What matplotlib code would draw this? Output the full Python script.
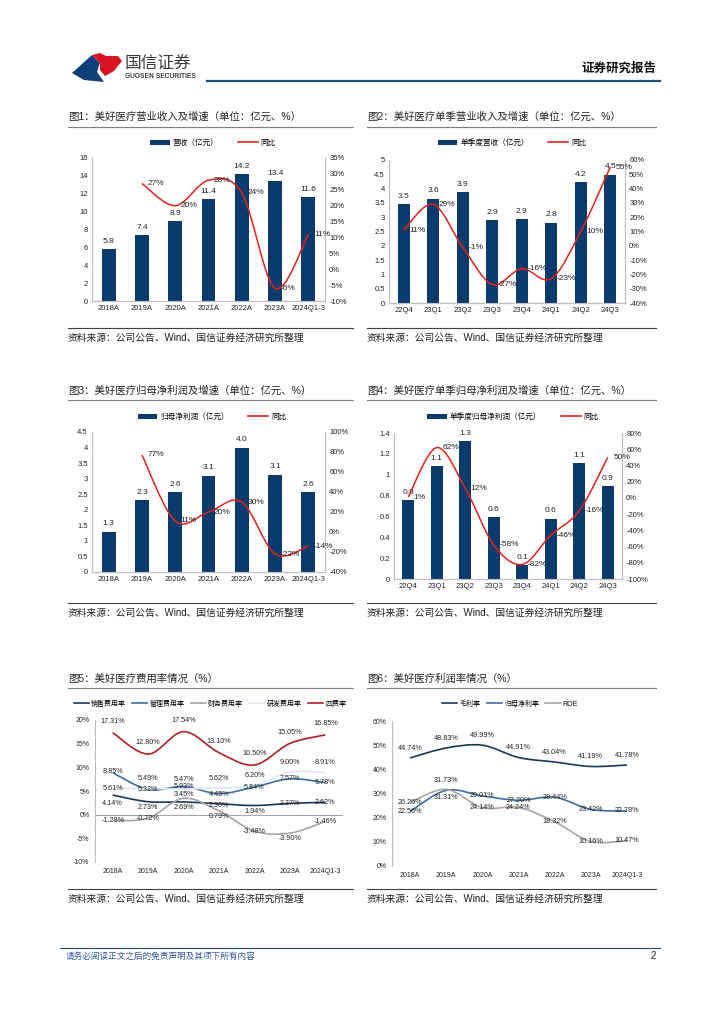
import numpy as np
import matplotlib
matplotlib.use("Agg")
import matplotlib.pyplot as plt
from matplotlib.lines import Line2D
from matplotlib.patches import Patch, Polygon, PathPatch
from matplotlib.path import Path

plt.rcParams['font.family'] = ['Liberation Sans', 'Noto Sans CJK SC', 'DejaVu Sans']
plt.rcParams['axes.unicode_minus'] = False

# DATA
annual_cats = ['2018A', '2019A', '2020A', '2021A', '2022A', '2023A', '2024Q1-3']
quarter_cats = ['22Q4', '23Q1', '23Q2', '23Q3', '23Q4', '24Q1', '24Q2', '24Q3']

revenue = [5.8, 7.4, 8.9, 11.4, 14.2, 13.4, 11.6]
revenue_yoy = [None, 27, 20, 28, 24, -6, 11]
q_revenue = [3.46, 3.65, 3.87, 2.89, 2.93, 2.81, 4.24, 4.49]
q_revenue_yoy = [11, 29, -1, -27, -16, -23, 10, 55]
net_profit = [1.3, 2.3, 2.57, 3.1, 4.0, 3.13, 2.57]
net_profit_yoy = [None, 77, 11, 20, 30, -22, -14]
q_profit = [0.76, 1.08, 1.32, 0.59, 0.13, 0.58, 1.11, 0.89]
q_profit_yoy = [1, 62, 12, -58, -82, -46, -16, 50]

sales_rate = [4.14, 2.73, 2.69, 2.30, 1.94, 2.37, 2.62]
admin_rate = [8.85, 5.32, 5.93, 4.45, 5.84, 7.57, 6.78]
fin_rate = [-1.29, -0.72, 3.45, 0.79, -3.48, -3.90, -1.46]
rd_rate = [5.61, 5.49, 5.47, 5.62, 6.20, 9.00, 8.91]
four_rate = [17.31, 12.80, 17.54, 13.10, 10.50, 15.05, 16.85]

gross_margin = [44.74, 48.83, 49.99, 44.91, 43.04, 41.19, 41.78]
net_margin = [22.56, 31.31, 29.01, 27.20, 28.44, 23.42, 22.78]
roe = [26.26, 31.73, 24.14, 24.24, 18.32, 10.16, 10.47]

# STYLE
W, H = 724, 1024
NAVY = '#0B3B6C'
RED = '#E2231A'
SPINE = '#BFBFBF'
TXT = '#222222'

fig = plt.figure(figsize=(W / 100, H / 100), dpi=100)


def rect(x0, y0, x1, y1):
    return [x0 / W, 1 - y1 / H, (x1 - x0) / W, (y1 - y0) / H]


def ftext(x, y, s, **kw):
    fig.text(x / W, 1 - y / H, s, **kw)


def hline(x0, x1, y, color, lw):
    fig.add_artist(Line2D([x0 / W, x1 / W], [1 - y / H] * 2, color=color, lw=lw))


def smooth_path(xs, ys):
    pts = np.column_stack([xs, ys]).astype(float)
    verts = [pts[0]]
    codes = [Path.MOVETO]
    n = len(pts)
    for i in range(n - 1):
        p0 = pts[i - 1] if i > 0 else pts[i]
        p1, p2 = pts[i], pts[i + 1]
        p3 = pts[i + 2] if i + 2 < n else pts[i + 1]
        verts += [p1 + (p2 - p0) / 6, p2 - (p3 - p1) / 6, p2]
        codes += [Path.CURVE4] * 3
    return Path(verts, codes)


def panel_frame(x0, x1, title, ty, tline, sline, sy):
    ftext(x0, ty, title, fontsize=7.5, color=TXT, va='center')
    hline(x0, x1, tline, '#7F7F7F', 0.8)
    hline(x0, x1, sline, '#404040', 0.8)
    ftext(x0, sy, '资料来源：公司公告、Wind、国信证券经济研究所整理', fontsize=7, color=TXT, va='center')


def bar_line(box, cats, bars, yoy, bar_name, llim, lstep, rlim, rstep, leg_xy):
    ax = fig.add_axes(rect(*box))
    x = np.arange(len(cats))
    ax.bar(x, bars, width=0.42, color=NAVY, zorder=2)
    for xi, v in zip(x, bars):
        ax.annotate(f'{v:.1f}', (xi, v), xytext=(0, 3), textcoords='offset points',
                    ha='center', va='bottom', fontsize=6, color=TXT)
    ax.set_xlim(-0.5, len(cats) - 0.5)
    ax.set_ylim(*llim)
    lt = np.arange(llim[0], llim[1] + lstep / 2, lstep)
    ax.set_yticks(lt)
    ax.set_yticklabels([f'{round(v, 2):g}' for v in lt])
    ax.set_xticks(x)
    ax.set_xticklabels(cats)

    ax2 = ax.twinx()
    pts = [(i, v) for i, v in enumerate(yoy) if v is not None]
    px, py = zip(*pts)
    ax2.add_patch(PathPatch(smooth_path(px, py), facecolor='none', edgecolor=RED, lw=1.1, zorder=3))
    for xi, v in pts:
        ax2.annotate(f'{v}%', (xi, v), xytext=(4, 0), textcoords='offset points',
                     ha='left', va='center', fontsize=6, color=TXT)
    ax2.set_ylim(*rlim)
    rt = np.arange(rlim[0], rlim[1] + rstep / 2, rstep)
    ax2.set_yticks(rt)
    ax2.set_yticklabels([f'{int(v)}%' for v in rt])

    for a in (ax, ax2):
        a.tick_params(length=0, labelsize=5.5, colors=TXT, pad=3)
        a.spines['top'].set_visible(False)
        for s in ('left', 'right', 'bottom'):
            a.spines[s].set_color(SPINE)
            a.spines[s].set_linewidth(0.8)

    handles = [Patch(facecolor=NAVY), Line2D([], [], color=RED, lw=1.2)]
    fig.legend(handles, [bar_name, '同比'], loc='center',
               bbox_to_anchor=(leg_xy[0] / W, 1 - leg_xy[1] / H), ncol=2, frameon=False,
               fontsize=5.5, handlelength=2.6, handleheight=0.6, columnspacing=2.5,
               handletextpad=0.4)


def multi_line(box, cats, series, ylim, ystep, leg_xy, zero_line):
    ax = fig.add_axes(rect(*box))
    x = np.arange(len(cats))
    for vals, name, color, lw, dys in series:
        ax.add_patch(PathPatch(smooth_path(x, vals), facecolor='none', edgecolor=color, lw=lw))
        for xi, v, dy in zip(x, vals, dys):
            ax.annotate(f'{v:.2f}%', (xi, v), xytext=(0, dy), textcoords='offset points',
                        ha='center', va='center', fontsize=5.2, color=TXT)
    ax.set_xlim(-0.5, len(cats) - 0.5)
    ax.set_ylim(*ylim)
    yt = np.arange(ylim[0], ylim[1] + ystep / 2, ystep)
    ax.set_yticks(yt)
    ax.set_yticklabels([f'{int(v)}%' for v in yt])
    ax.set_xticks(x)
    ax.set_xticklabels(cats)
    ax.tick_params(length=0, labelsize=5, colors=TXT, pad=4)
    for s in ('top', 'right', 'bottom'):
        ax.spines[s].set_visible(False)
    ax.spines['left'].set_color(SPINE)
    ax.spines['left'].set_linewidth(0.8)
    if zero_line:
        ax.axhline(0, color='#A6A6A6', lw=0.8, zorder=0)
    handles = [Line2D([], [], color=s[2], lw=1.2) for s in series]
    fig.legend(handles, [s[1] for s in series], loc='center',
               bbox_to_anchor=(leg_xy[0] / W, 1 - leg_xy[1] / H), ncol=len(series),
               frameon=False, fontsize=5, handlelength=2.2, columnspacing=0.9,
               handletextpad=0.3)


# HEADER
fig.add_artist(Polygon([(72 / W, 1 - 73 / H), (92 / W, 1 - 55 / H), (100 / W, 1 - 63 / H),
                        (97 / W, 1 - 72 / H), (104 / W, 1 - 82 / H), (84 / W, 1 - 80 / H)],
                       closed=True, facecolor='#0E3F7A', edgecolor='none'))
fig.add_artist(Polygon([(92 / W, 1 - 55 / H), (100 / W, 1 - 53 / H), (106 / W, 1 - 56 / H),
                        (118 / W, 1 - 56 / H), (122 / W, 1 - 61 / H), (114 / W, 1 - 71 / H),
                        (105 / W, 1 - 76 / H), (100 / W, 1 - 70 / H), (100 / W, 1 - 63 / H)],
                       closed=True, facecolor='#D7141F', edgecolor='none'))
ftext(125, 63, '国信证券', fontsize=12, color='#3A3A3A', va='center')
ftext(125, 76, 'GUOSEN SECURITIES', fontsize=4.8, color='#3A3A3A', va='center', fontweight='bold')
ftext(656, 69, '证券研究报告', fontsize=9, color='#111111', va='center', ha='right', fontweight='bold')
hline(207, 660, 81, '#1F4E79', 1.6)

# PANELS
panel_frame(68, 353, '图1：美好医疗营业收入及增速（单位：亿元、%）', 117, 127, 328, 338)
panel_frame(367, 656, '图2：美好医疗单季营业收入及增速（单位：亿元、%）', 117, 127, 328, 338)
panel_frame(68, 353, '图3：美好医疗归母净利润及增速（单位：亿元、%）', 391, 400, 603, 613)
panel_frame(367, 656, '图4：美好医疗单季归母净利润及增速（单位：亿元、%）', 391, 400, 603, 613)
panel_frame(68, 353, '图5：美好医疗费用率情况（%）', 679, 688, 889, 899)
panel_frame(367, 656, '图6：美好医疗利润率情况（%）', 679, 688, 889, 899)

bar_line((92, 158, 325, 301), annual_cats, revenue, revenue_yoy, '营收（亿元）',
         (0, 16), 2, (-10, 35), 5, (213, 143))
bar_line((389, 160, 625, 303), quarter_cats, q_revenue, q_revenue_yoy, '单季度营收（亿元）',
         (0, 5), 0.5, (-40, 60), 10, (512, 143))
bar_line((92, 432, 325, 572), annual_cats, net_profit, net_profit_yoy, '归母净利润（亿元）',
         (0, 4.5), 0.5, (-40, 100), 20, (212, 417))
bar_line((394, 433, 622, 579), quarter_cats, q_profit, q_profit_yoy, '单季度归母净利润（亿元）',
         (0, 1.4), 0.2, (-100, 80), 20, (513, 417))

multi_line((95, 720, 343, 862), annual_cats,
           [(sales_rate, '销售费用率', '#17375E', 1.2, [-6, -4, -4, -1, -4, 0, 0]),
            (admin_rate, '管理费用率', '#3A6EA5', 1.2, [1, 0, 0, -1, 0, 0, 0]),
            (fin_rate, '财务费用率', '#A6A6A6', 1.2, [0, 0, 3, -4, 0, -4, 0]),
            (rd_rate, '研发费用率', '#DCE6F2', 1.2, [0, 7, 7, 7, 7, 7, 7]),
            (four_rate, '四费率', '#B01F24', 1.2, [8, 8, 8, 8, 8, 8, 8])],
           (-10, 20), 5, (210, 704), True)

multi_line((392, 721, 645, 866), annual_cats,
           [(gross_margin, '毛利率', '#17375E', 1.2, [7, 7, 7, 7, 7, 7, 7]),
            (net_margin, '归母净利率', '#3A6EA5', 1.2, [0, -5, 0, 0, 0, 0, 0]),
            (roe, 'ROE', '#A6A6A6', 1.2, [0, 6, 0, 0, 0, 0, 0])],
           (0, 60), 10, (510, 704), False)

# FOOTER
hline(60, 660, 948, '#1F4E79', 0.8)
ftext(66, 956, '请务必阅读正文之后的免责声明及其项下所有内容', fontsize=6.2, color='#2F5597',
      va='center', style='italic')
ftext(656, 956, '2', fontsize=7, color=TXT, va='center', ha='right')

fig.savefig('out.png', dpi=100)
